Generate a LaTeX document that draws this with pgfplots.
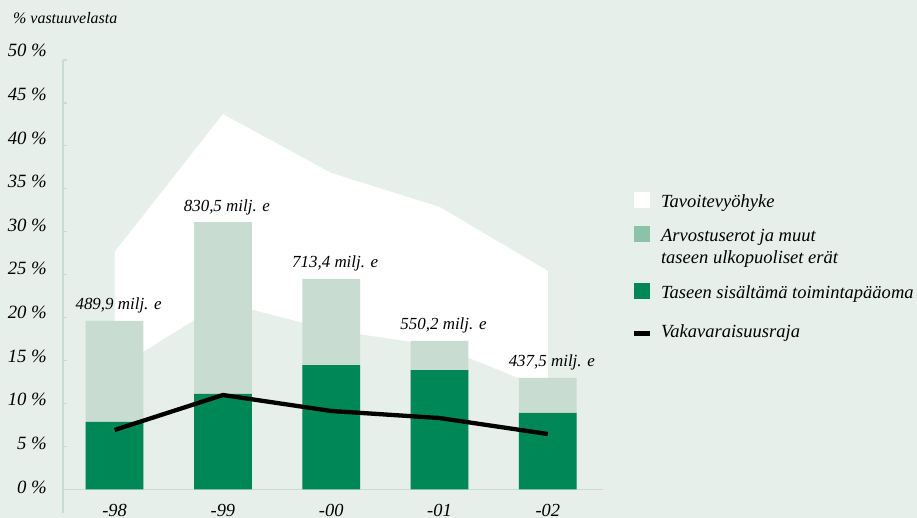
\documentclass[border=0pt]{standalone}
\usepackage{pgfplots}
\pgfplotsset{compat=1.18}
\usepackage{fontspec}
\setmainfont{Liberation Serif}
\definecolor{bgcol}{HTML}{E6EFEA}
\definecolor{lightbar}{HTML}{C8DCD2}
\definecolor{darkbar}{HTML}{008758}
\definecolor{legendlight}{HTML}{8CC2A8}
\definecolor{axiscol}{HTML}{C8DCD2}
\begin{document}
\begin{tikzpicture}
\fill[bgcol] (-114.6bp,-28.5bp) rectangle (802.4bp,489.5bp);
\begin{axis}[
  at={(0,0)}, anchor=origin,
  x=108.3bp, y=8.59bp,
  xmin=-0.479, xmax=4.51, ymin=-2.74, ymax=52,
  clip=false,
  axis line style={draw=none},
  tick pos=left,
  xtick={0,1,2,3,4},
  xticklabels={-98,-99,-00,-01,-02},
  xtick style={draw=none},
  xticklabel style={anchor=base, yshift=-3bp, inner sep=0pt, font=\fontsize{18.5}{20}\selectfont\itshape},
  ytick={0,5,...,50},
  yticklabels={},
  ytick style={axiscol, line width=1.2bp},
  major tick length=4bp,
  yticklabel style={anchor=east, inner sep=0pt, xshift=-15.7bp, font=\fontsize{18.8}{20}\selectfont\itshape},
  extra y ticks={0.29,5.37,10.45,15.53,20.61,25.69,30.77,35.85,40.93,46.01,51.09},
  extra y tick labels={0 \%,5 \%,10 \%,15 \%,20 \%,25 \%,30 \%,35 \%,40 \%,45 \%,50 \%},
  extra y tick style={major tick length=0pt},
  title={\% vastuuvelasta},
  title style={at={(-0.092,1.041)}, anchor=base west, inner sep=0pt, yshift=-5.5bp, font=\fontsize{16}{18}\selectfont\itshape},
  legend style={at={(1.0574,0.6848)}, anchor=north west, draw=none, fill=none, inner sep=0pt, outer sep=0pt, row sep=0pt, column sep=11bp, cells={anchor=base west}, nodes={inner sep=0pt}, font=\fontsize{18.6}{23}\selectfont\itshape},
]
\draw[axiscol, line width=1.6bp] (axis cs:-0.479,-2.74) -- (axis cs:-0.479,50);
\addplot[fill=white, draw=none, forget plot] coordinates {(0,27.65) (1,43.7) (2,36.85) (3,32.9) (4,25.45) (4,11.6) (3,16.7) (2,18.57) (1,21.8) (0,13.96)} -- cycle;
\draw[axiscol, line width=1.6bp] (axis cs:-0.479,0) -- (axis cs:4.51,0);
\addplot[ybar, bar width=57.7bp, bar shift=0pt, fill=lightbar, draw=none, forget plot,
  point meta=explicit symbolic, nodes near coords,
  nodes near coords style={anchor=base, yshift=11bp, xshift=4bp, inner sep=0pt, font=\fontsize{17}{20}\selectfont\itshape, text=black}]
  coordinates {(0,19.62) [489,9 milj. e] (1,31.14) [830,5 milj. e] (2,24.51) [713,4 milj. e] (3,17.29) [550,2 milj. e] (4,12.98) [437,5 milj. e]};
\addplot[ybar, bar width=57.7bp, bar shift=0pt, fill=darkbar, draw=none, forget plot]
  coordinates {(0,7.86) (1,11.12) (2,14.49) (3,13.91) (4,8.91)};
\addplot[black, line width=4.3bp, line join=round, forget plot]
  coordinates {(0,6.93) (1,11.0) (2,9.14) (3,8.32) (4,6.46)};
\addlegendimage{legend image code/.code={\path[draw=none,fill=none] (0bp,-17.9bp) rectangle (16bp,16bp); \path[fill=white,draw=none] (0bp,-1bp) rectangle (16bp,15bp);}}
\addlegendentry{Tavoitevyöhyke}
\addlegendimage{legend image code/.code={\path[draw=none,fill=none] (0bp,-29.9bp) rectangle (16bp,16.1bp); \path[fill=legendlight,draw=none] (0bp,-1bp) rectangle (16bp,15bp);}}
\addlegendentry{\begin{tabular}[t]{@{}l@{}}Arvostuserot ja muut\\taseen ulkopuoliset erät\end{tabular}}
\addlegendimage{legend image code/.code={\path[draw=none,fill=none] (0bp,-5bp) rectangle (16bp,27.1bp); \path[fill=darkbar,draw=none] (0bp,-1bp) rectangle (16bp,15bp);}}
\addlegendentry{Taseen sisältämä toimintapääoma}
\addlegendimage{legend image code/.code={\path[draw=none,fill=none] (0bp,-5bp) rectangle (16bp,34bp); \path[fill=black,draw=none] (0bp,1bp) rectangle (16bp,6bp);}}
\addlegendentry{Vakavaraisuusraja}
\end{axis}
\pgfresetboundingbox
\path[use as bounding box] (-114.6bp,-28.5bp) rectangle (802.4bp,489.5bp);
\end{tikzpicture}
\end{document}
